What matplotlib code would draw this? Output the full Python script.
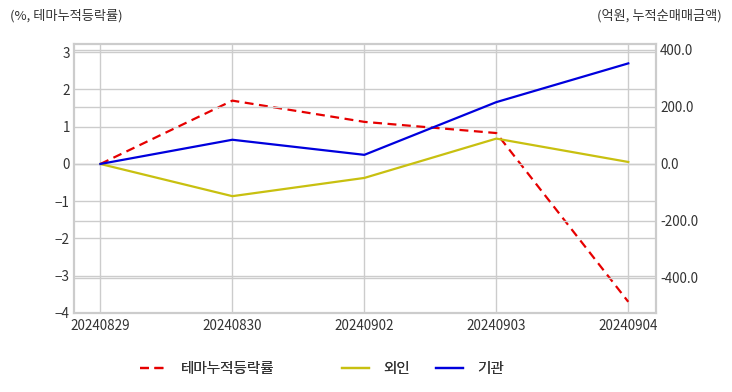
import matplotlib
matplotlib.use('Agg')
import matplotlib.pyplot as plt

plt.rcParams['font.family'] = ['Noto Sans CJK KR', 'DejaVu Sans']

dates = ['20240829', '20240830', '20240902', '20240903', '20240904']
theme_rate = [0.0, 1.70, 1.13, 0.83, -3.70]   # %, left axis
foreign = [0.0, -113.0, -49.0, 89.0, 7.0]      # 억원, right axis
institution = [0.0, 85.0, 32.0, 217.0, 353.0]  # 억원, right axis

left_ticks = [-4, -3, -2, -1, 0, 1, 2, 3]
right_ticks = [-400, -200, 0, 200, 400]

grid_c = '#cccccc'
txt_c = '#333333'

fig = plt.figure(figsize=(7.32, 3.92), dpi=100)
ax = fig.add_axes([74/732, 1 - 313/392, (656-74)/732, (313-44)/392])
ax2 = ax.twinx()

x = list(range(len(dates)))
l1, = ax.plot(x, theme_rate, color='#e60000', linestyle=(0, (4, 2.5)), linewidth=1.6, label='테마누적등락률')
l2, = ax2.plot(x, foreign, color='#c8c010', linewidth=1.6, label='외인')
l3, = ax2.plot(x, institution, color='#0000dd', linewidth=1.6, label='기관')

ax.set_xlim(-0.2, 4.21)
ax.set_ylim(-4, 3.22)
ax2.set_ylim(-523, 421)
ax.set_xticks(x)
ax.set_xticklabels(dates)
ax.set_yticks(left_ticks)
ax2.set_yticks(right_ticks)
ax2.set_yticklabels(['%.1f' % v for v in right_ticks])

for a in (ax, ax2):
    a.grid(True, color=grid_c, linewidth=1)
    a.set_axisbelow(True)
    a.tick_params(length=0, labelsize=9.7, colors=txt_c, pad=3)
    for s in a.spines.values():
        s.set_color(grid_c)
        s.set_linewidth(1.5)
ax2.grid(True, axis='y', color=grid_c, linewidth=1)
ax2.grid(False, axis='x')
ax.tick_params(axis='x', pad=4)

fig.text(10/732, 1 - 16/392, '(%, 테마누적등락률)', fontsize=9.5, color=txt_c, va='center', ha='left')
fig.text(722/732, 1 - 16/392, '(억원, 누적순매매금액)', fontsize=9.5, color=txt_c, va='center', ha='right')

# one legend per entry so the uneven spacing of the original can be kept
for h, xpos in [(l1, 140), (l2, 342), (l3, 436)]:
    lg = fig.legend(handles=[h], loc='center left', bbox_to_anchor=(xpos/732, 1 - 369/392),
                    frameon=False, fontsize=10.5, handlelength=1.85, handletextpad=0.95,
                    borderpad=0, borderaxespad=0, labelcolor=txt_c)
    fig.add_artist(lg)

fig.savefig('out.png', dpi=100)
